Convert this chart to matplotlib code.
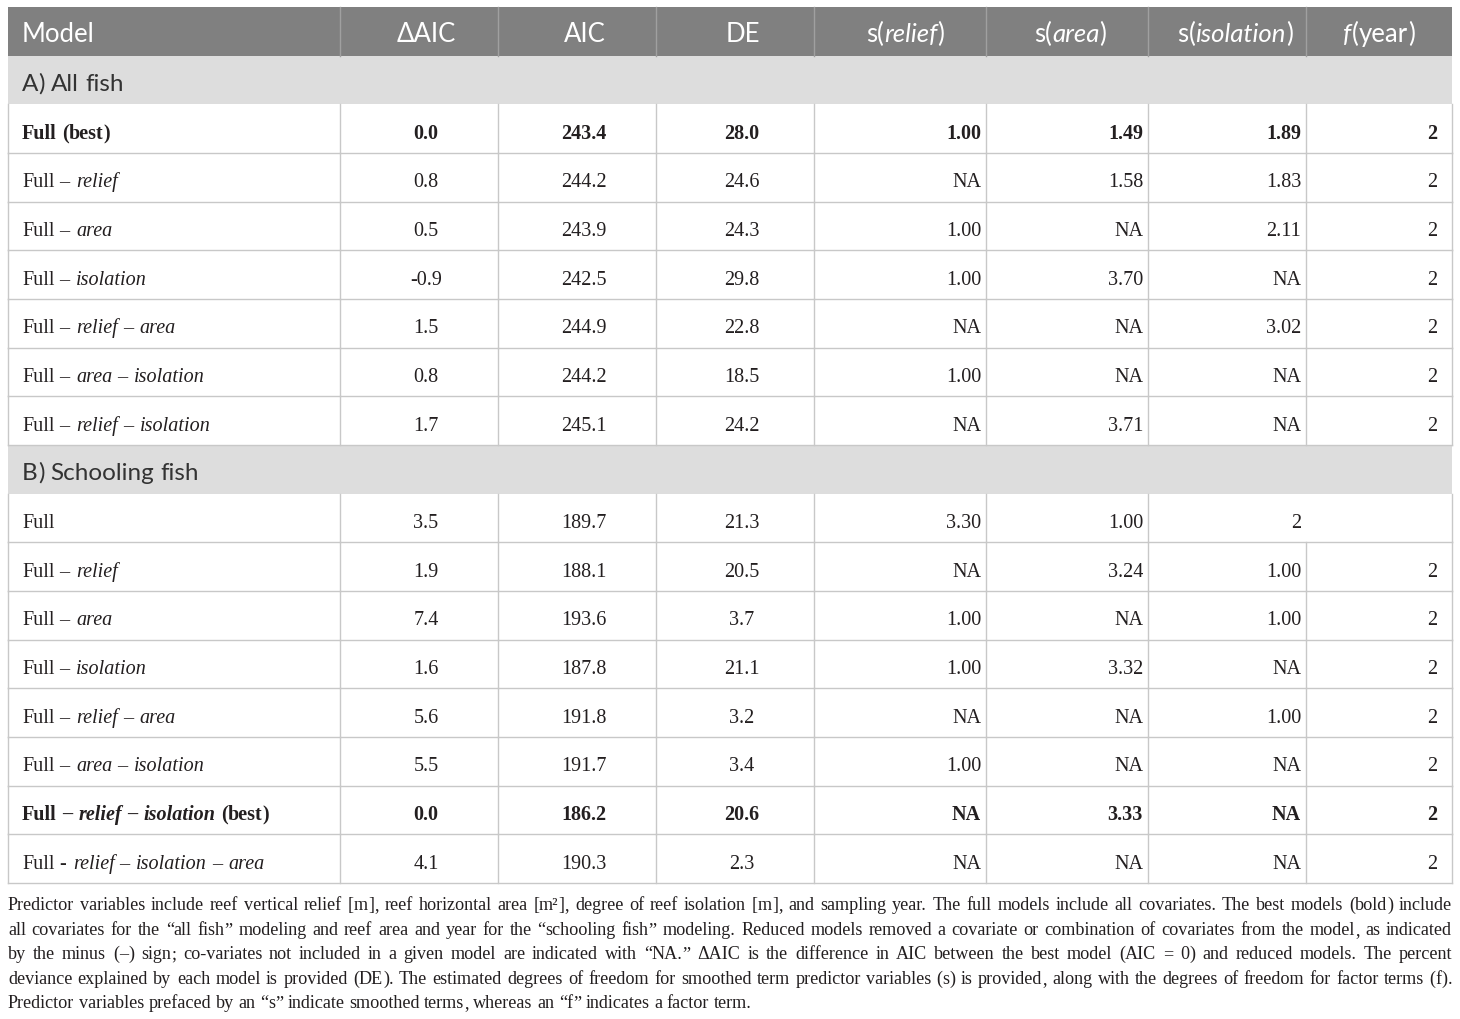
import re
import matplotlib
matplotlib.use("Agg")
import matplotlib.pyplot as plt
from matplotlib.patches import Rectangle

# table content
columns = ["Model", "ΔAIC", "AIC", "DE", "s(*relief*)", "s(*area*)", "s(*isolation*)", "*f*(year)"]

section_a = "A) All fish"
models_a = ["Full (best)", "Full – *relief*", "Full – *area*", "Full – *isolation*",
            "Full – *relief* – *area*", "Full – *area* – *isolation*", "Full – *relief* – *isolation*"]
daic_a = ["0.0", "0.8", "0.5", "-0.9", "1.5", "0.8", "1.7"]
aic_a = ["243.4", "244.2", "243.9", "242.5", "244.9", "244.2", "245.1"]
de_a = ["28.0", "24.6", "24.3", "29.8", "22.8", "18.5", "24.2"]
srelief_a = ["1.00", "NA", "1.00", "1.00", "NA", "1.00", "NA"]
sarea_a = ["1.49", "1.58", "NA", "3.70", "NA", "NA", "3.71"]
siso_a = ["1.89", "1.83", "2.11", "NA", "3.02", "NA", "NA"]
fyear_a = ["2", "2", "2", "2", "2", "2", "2"]
best_a = 0

section_b = "B) Schooling fish"
models_b = ["Full", "Full – *relief*", "Full – *area*", "Full – *isolation*",
            "Full – *relief* – *area*", "Full – *area* – *isolation*",
            "Full – *relief* – *isolation* (best)", "Full - *relief* – *isolation* – *area*"]
daic_b = ["3.5", "1.9", "7.4", "1.6", "5.6", "5.5", "0.0", "4.1"]
aic_b = ["189.7", "188.1", "193.6", "187.8", "191.8", "191.7", "186.2", "190.3"]
de_b = ["21.3", "20.5", "3.7", "21.1", "3.2", "3.4", "20.6", "2.3"]
srelief_b = ["3.30", "NA", "1.00", "1.00", "NA", "1.00", "NA", "NA"]
sarea_b = ["1.00", "3.24", "NA", "3.32", "NA", "NA", "3.33", "NA"]
siso_b = ["2", "1.00", "1.00", "NA", "1.00", "NA", "NA", "NA"]
fyear_b = ["", "2", "2", "2", "2", "2", "2", "2"]
best_b = 6

caption = [
    "Predictor variables include reef vertical relief [m], reef horizontal area [m²], degree of reef isolation [m], and sampling year. The full models include all covariates. The best models (bold) include",
    "all covariates for the “all fish” modeling and reef area and year for the “schooling fish” modeling. Reduced models removed a covariate or combination of covariates from the model, as indicated",
    "by the minus (–) sign; co-variates not included in a given model are indicated with “NA.” ΔAIC is the difference in AIC between the best model (AIC = 0) and reduced models. The percent",
    "deviance explained by each model is provided (DE). The estimated degrees of freedom for smoothed term predictor variables (s) is provided, along with the degrees of freedom for factor terms (f).",
    "Predictor variables prefaced by an “s” indicate smoothed terms, whereas an “f” indicates a factor term.",
]

# layout
W, H = 1460, 1020
edges = [8, 340, 498, 656, 814, 986, 1148, 1306, 1452]
top = 8
row_h = (884 - top) / 18
SERIF = "Liberation Serif"
SANS = "Lato"
TEXT = "#231f20"
GRID = "#c8c8c8"

fig = plt.figure(figsize=(W / 100, H / 100), dpi=100)
ax = fig.add_axes([0, 0, 1, 1])
ax.set_xlim(0, W)
ax.set_ylim(H, 0)
ax.axis("off")
renderer = fig.canvas.get_renderer()


def width_of(s, **kw):
    t = ax.text(0, 0, s, **kw)
    w = t.get_window_extent(renderer).width
    t.remove()
    return w


def parse(s):
    # split "a *b* c" into words, then words into letter runs and single signs
    words = []
    for i, chunk in enumerate(s.split("*")):
        italic = i % 2 == 1
        parts = chunk.split(" ")
        for j, wd in enumerate(parts):
            if wd:
                words.append([re.findall(r"[\w.\-–]+|[^\w.\-–]", wd), italic, 0])
            if j < len(parts) - 1 and words:
                words[-1][2] += 1
    return words


def draw_rich(x, base, s, ha="left", family=SERIF, size=14.5, weight="normal", color=TEXT, target=None):
    base = round(base)
    words = parse(s)
    kw = dict(family=family, fontsize=size, weight=weight)
    space = width_of("x x", **kw) - width_of("xx", **kw)
    tok_w = [[width_of(t, style="italic" if w[1] else "normal", **kw) for t in w[0]] for w in words]
    widths = [sum(tw) for tw in tok_w]
    gaps = [w[2] * space for w in words]
    gaps[-1] = 0
    for k in range(len(words) - 1):
        if gaps[k] > 0 and words[k + 1][1] and not words[k][1]:
            gaps[k] += 1.5
    if target is not None and len(words) > 1:
        extra = (target - sum(widths) - sum(gaps)) / sum(1 for g in gaps if g > 0)
        gaps = [g + extra if g > 0 else 0 for g in gaps]
    total = sum(widths) + sum(gaps)
    if ha == "center":
        x -= total / 2
    elif ha == "right":
        x -= total
    for w, tw, g in zip(words, tok_w, gaps):
        for t, tws in zip(w[0], tw):
            ax.text(x, base, t, style="italic" if w[1] else "normal", va="baseline", ha="left",
                    color=color, **kw)
            x += tws
        x += g


def cell_x(col):
    lo, hi = edges[col], edges[col + 1]
    if col == 0:
        return lo + 14, "left"
    if col <= 3:
        return (lo + hi) / 2 + 7, "center"
    if col == 7:
        return hi - 15, "right"
    return hi - 5, "right"


# header
ax.add_patch(Rectangle((edges[0], top), edges[-1] - edges[0], row_h, color="#808080", lw=0))
for x in edges[1:-1]:
    ax.plot([x, x], [top, top + row_h], color="#a0a0a0", lw=1)
header_x = [22, 426, 585, 743, 905, 1070, 1235, 1379]
for i, name in enumerate(columns):
    draw_rich(header_x[i], top + row_h / 2 + 9.5, name, ha="left" if i == 0 else "center",
              family=SANS, size=18.5, color="white")


def draw_section(start, title, cols, best):
    y0 = top + start * row_h
    ax.add_patch(Rectangle((edges[0], y0), edges[-1] - edges[0], row_h, color="#dddddd", lw=0))
    draw_rich(22, y0 + row_h / 2 + 10, title, family=SANS, size=17.5, color="#333333")
    nrows = len(cols[0])
    for r in range(nrows):
        ya = y0 + (r + 1) * row_h
        yc = ya + row_h / 2
        ax.plot([edges[0], edges[-1]], [ya + row_h, ya + row_h], color=GRID, lw=1)
        for k, x in enumerate(edges):
            if k == 7 and cols[-1][r] == "":
                continue
            ax.plot([x, x], [ya, ya + row_h], color=GRID, lw=1)
        wt = "bold" if r == best else "normal"
        for c, vals in enumerate(cols):
            if vals[r] == "":
                continue
            x, ha = cell_x(c)
            draw_rich(x, yc + 9, vals[r], ha=ha, weight=wt)
    return start + 1 + nrows


nxt = draw_section(1, section_a,
                   [models_a, daic_a, aic_a, de_a, srelief_a, sarea_a, siso_a, fyear_a], best_a)
draw_section(nxt, section_b,
             [models_b, daic_b, aic_b, de_b, srelief_b, sarea_b, siso_b, fyear_b], best_b)

# caption, justified to the table width
span = edges[-1] - edges[0]
longest = max(width_of(line, family=SERIF, fontsize=12) for line in caption[:-1])
cap_size = 12 * span / longest * 0.985
for i, line in enumerate(caption):
    tgt = span if i < len(caption) - 1 else None
    draw_rich(edges[0], 910 + i * 24.6, line, size=cap_size, target=tgt)

fig.savefig("out.png", dpi=100)
